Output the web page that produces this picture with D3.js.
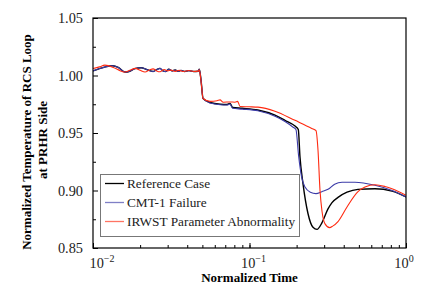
<!DOCTYPE html>
<html>
<head>
  <script src="https://d3js.org/d3.v7.js"></script>
  <style>
    html, body {
      margin: 0px;
      padding: 0px;
      background: #fff;
    }
    #chart {
      width: 430px;
      height: 296px;
      position: relative;
    }
    .tickLabel {
      font-size: 14.3px;
    }
    .axisLabel {
      font-size: 13px;
      font-weight: bold;
    }
    .legendText {
      font-size: 13.3px;
    }
  </style>
</head>
<body>
  <div id="chart"></div>
  <script>

      /*
      DATA
      */
      const seriesNames = ["Reference Case", "CMT-1 Failure", "IRWST Parameter Abnormality"];
      const seriesColors = ["#000000", "#3b3ba8", "#ff2a10"];

      const xTickValues = [0.01, 0.1, 1];
      const xTickExponents = ["\u22122", "\u22121", "0"];
      const yTickValues = [0.85, 0.90, 0.95, 1.00, 1.05];
      const yMinorValues = [0.875, 0.925, 0.975, 1.025];

      const refTime = [0.0100, 0.0110, 0.0120, 0.0134, 0.0145, 0.0160, 0.0170, 0.0185, 0.0203, 0.0222,
        0.0242, 0.0255, 0.0268, 0.0280, 0.0292, 0.0305, 0.0320, 0.0335, 0.0350, 0.0365,
        0.0385, 0.0410, 0.0440, 0.0470, 0.0478, 0.0490, 0.0505, 0.0560, 0.0650, 0.0720,
        0.0750, 0.0780, 0.0900, 0.1130, 0.1455, 0.1685, 0.1953, 0.2050, 0.2102, 0.2197,
        0.2364, 0.2545, 0.2700, 0.2906, 0.3174, 0.3366, 0.3677, 0.4198, 0.4935, 0.6335,
        0.8140, 1.0000];
      const refTemp = [1.0040, 1.0060, 1.0075, 1.0085, 1.0070, 1.0030, 1.0035, 1.0060, 1.0068, 1.0050,
        1.0035, 1.0050, 1.0062, 1.0040, 1.0035, 1.0055, 1.0040, 1.0048, 1.0036, 1.0045,
        1.0035, 1.0042, 1.0035, 1.0037, 1.0055, 0.9960, 0.9800, 0.9765, 0.9750, 0.9748,
        0.9758, 0.9722, 0.9715, 0.9700, 0.9655, 0.9610, 0.9560, 0.9530, 0.9290, 0.9060,
        0.8800, 0.8680, 0.8662, 0.8720, 0.8840, 0.8895, 0.8940, 0.8985, 0.9010, 0.9015,
        0.8995, 0.8944];

      const cmtTime = [0.0100, 0.0110, 0.0120, 0.0134, 0.0145, 0.0160, 0.0170, 0.0185, 0.0203, 0.0222,
        0.0242, 0.0255, 0.0268, 0.0280, 0.0292, 0.0305, 0.0320, 0.0335, 0.0350, 0.0365,
        0.0385, 0.0410, 0.0440, 0.0470, 0.0478, 0.0490, 0.0505, 0.0560, 0.0650, 0.0720,
        0.0750, 0.0780, 0.0900, 0.1130, 0.1455, 0.1685, 0.1900, 0.1980, 0.2060, 0.2150,
        0.2262, 0.2450, 0.2660, 0.2900, 0.3174, 0.3500, 0.3901, 0.4722, 0.6335, 0.8140,
        1.0000];
      const cmtTemp = [1.0040, 1.0060, 1.0075, 1.0085, 1.0070, 1.0030, 1.0035, 1.0060, 1.0068, 1.0050,
        1.0035, 1.0050, 1.0062, 1.0040, 1.0035, 1.0055, 1.0040, 1.0048, 1.0036, 1.0045,
        1.0035, 1.0042, 1.0035, 1.0037, 1.0055, 0.9960, 0.9800, 0.9760, 0.9745, 0.9743,
        0.9752, 0.9715, 0.9708, 0.9693, 0.9645, 0.9600, 0.9550, 0.9530, 0.9300, 0.9120,
        0.9030, 0.8985, 0.8973, 0.8990, 0.9010, 0.9055, 0.9072, 0.9072, 0.9045, 0.9000,
        0.8944];

      const irwstTime = [0.0100, 0.0110, 0.0119, 0.0135, 0.0150, 0.0160, 0.0172, 0.0186, 0.0200, 0.0215,
        0.0230, 0.0242, 0.0255, 0.0268, 0.0285, 0.0300, 0.0315, 0.0335, 0.0355, 0.0380,
        0.0410, 0.0440, 0.0470, 0.0478, 0.0490, 0.0505, 0.0560, 0.0620, 0.0648, 0.0680,
        0.0750, 0.0808, 0.0840, 0.0870, 0.1000, 0.1133, 0.1455, 0.1953, 0.2500, 0.2660,
        0.2740, 0.2822, 0.2906, 0.3038, 0.3250, 0.3400, 0.3677, 0.4198, 0.4935, 0.5470,
        0.6335, 0.7340, 0.8140, 1.0000];
      const irwstTemp = [1.0060, 1.0075, 1.0090, 1.0070, 1.0040, 1.0030, 1.0045, 1.0062, 1.0045, 1.0030,
        1.0048, 1.0058, 1.0040, 1.0032, 1.0052, 1.0040, 1.0047, 1.0036, 1.0045, 1.0035,
        1.0043, 1.0035, 1.0038, 1.0050, 0.9950, 0.9800, 0.9775, 0.9780, 0.9788, 0.9768,
        0.9770, 0.9768, 0.9775, 0.9730, 0.9728, 0.9725, 0.9690, 0.9610, 0.9540, 0.9520,
        0.9350, 0.9000, 0.8820, 0.8710, 0.8677, 0.8690, 0.8730, 0.8857, 0.8990, 0.9030,
        0.9050, 0.9035, 0.9016, 0.8958];

      const series = [
        {name: seriesNames[0], color: seriesColors[0], width: 1.4, t: refTime, v: refTemp},
        {name: seriesNames[1], color: seriesColors[1], width: 1.1, t: cmtTime, v: cmtTemp},
        {name: seriesNames[2], color: seriesColors[2], width: 1.1, t: irwstTime, v: irwstTemp}
      ];

      const serif = "'Liberation Serif'";

      /*
      SVG CANVAS
      */
      const width = 430;
      const height = 296;
      const margin = {top: 18, left: 93, right: 24, bottom: 48};

      const svg = d3.select("#chart")
        .append("svg")
        .attr("width", width)
        .attr("height", height);

      /*
      SCALES
      */
      const xScale = d3.scaleLog()
        .domain([0.01, 1])
        .range([margin.left, width - margin.right]);

      const yScale = d3.scaleLinear()
        .domain([0.85, 1.05])
        .range([height - margin.bottom, margin.top]);

      const plotW = width - margin.left - margin.right;
      const plotH = height - margin.top - margin.bottom;

      svg.append("defs").append("clipPath")
        .attr("id", "plotClip")
        .append("rect")
        .attr("x", margin.left)
        .attr("y", margin.top)
        .attr("width", plotW)
        .attr("height", plotH);

      /*
      TICKS (inward)
      */
      const bottomY = height - margin.bottom;

      // minor x ticks
      svg.append("g")
        .attr("transform", `translate(0,${bottomY})`)
        .call(d3.axisBottom(xScale).ticks(10).tickSize(-3).tickFormat(""))
        .call(g => g.select(".domain").remove());

      // major x ticks
      svg.append("g")
        .attr("transform", `translate(0,${bottomY})`)
        .call(d3.axisBottom(xScale).tickValues(xTickValues).tickSize(-5).tickFormat(""))
        .call(g => g.select(".domain").remove());

      // minor y ticks
      svg.append("g")
        .attr("transform", `translate(${margin.left},0)`)
        .call(d3.axisLeft(yScale).tickValues(yMinorValues).tickSize(-3).tickFormat(""))
        .call(g => g.select(".domain").remove());

      // major y ticks with labels
      const yAxis = svg.append("g")
        .attr("transform", `translate(${margin.left},0)`)
        .call(d3.axisLeft(yScale).tickValues(yTickValues).tickSize(-5).tickPadding(10).tickFormat(d3.format(".2f")))
        .call(g => g.select(".domain").remove());

      yAxis.selectAll("text")
        .attr("fill", "#222")
        .style("font-family", serif)
        .style("font-size", "14.3px");

      // x tick labels with superscripts
      const labelShift = [9, 4, -2];
      xTickValues.forEach(function(v, i) {
        const t = svg.append("text")
          .attr("x", xScale(v) + labelShift[i])
          .attr("y", 268)
          .attr("text-anchor", "middle")
          .attr("fill", "#222")
          .style("font-family", serif)
          .style("font-size", "14.3px");
        t.append("tspan").text("10");
        t.append("tspan")
          .attr("dy", -6)
          .style("font-size", "10px")
          .text(xTickExponents[i]);
      });

      /*
      LINES
      */
      const line = d3.line()
        .x(function(d) { return xScale(d[0]); })
        .y(function(d) { return yScale(d[1]); })
        .curve(d3.curveMonotoneX);

      svg.append("g")
        .attr("clip-path", "url(#plotClip)")
        .selectAll("path")
        .data(series)
        .enter()
        .append("path")
          .attr("d", function(s) { return line(s.t.map(function(t, i) { return [t, s.v[i]]; })); })
          .attr("fill", "none")
          .attr("stroke", function(s) { return s.color; })
          .attr("stroke-width", function(s) { return s.width; });

      /*
      FRAME
      */
      svg.append("rect")
        .attr("x", margin.left)
        .attr("y", margin.top)
        .attr("width", plotW)
        .attr("height", plotH)
        .attr("fill", "none")
        .attr("stroke", "#000")
        .attr("stroke-width", 1.2);

      /*
      LEGEND
      */
      const legend = svg.append("g");

      legend.append("rect")
        .attr("x", 100.5)
        .attr("y", 174.5)
        .attr("width", 199)
        .attr("height", 62)
        .attr("fill", "#fff")
        .attr("stroke", "#777")
        .attr("stroke-width", 1);

      series.forEach(function(s, i) {
        const y = 183.5 + i * 19;
        legend.append("line")
          .attr("x1", 105)
          .attr("x2", 124)
          .attr("y1", y)
          .attr("y2", y)
          .attr("stroke", s.color)
          .attr("stroke-opacity", i === 0 ? 1 : 0.65)
          .attr("stroke-width", 1.3);
        legend.append("text")
          .attr("x", 127)
          .attr("y", y + 4.5)
          .attr("fill", "#222")
          .style("font-family", serif)
          .style("font-size", "13.3px")
          .text(s.name);
      });

      /*
      AXIS TITLES
      */
      svg.append("text")
        .attr("x", 249.5)
        .attr("y", 282)
        .attr("text-anchor", "middle")
        .style("font-family", serif)
        .style("font-size", "13px")
        .style("font-weight", "bold")
        .text("Normalized Time");

      svg.append("text")
        .attr("transform", "translate(31,142) rotate(-90)")
        .attr("text-anchor", "middle")
        .style("font-family", serif)
        .style("font-size", "13px")
        .style("font-weight", "bold")
        .text("Normalized Temperature of RCS Loop");

      svg.append("text")
        .attr("transform", "translate(47,140) rotate(-90)")
        .attr("text-anchor", "middle")
        .style("font-family", serif)
        .style("font-size", "13px")
        .style("font-weight", "bold")
        .text("at PRHR Side");

  </script>
</body>
</html>
